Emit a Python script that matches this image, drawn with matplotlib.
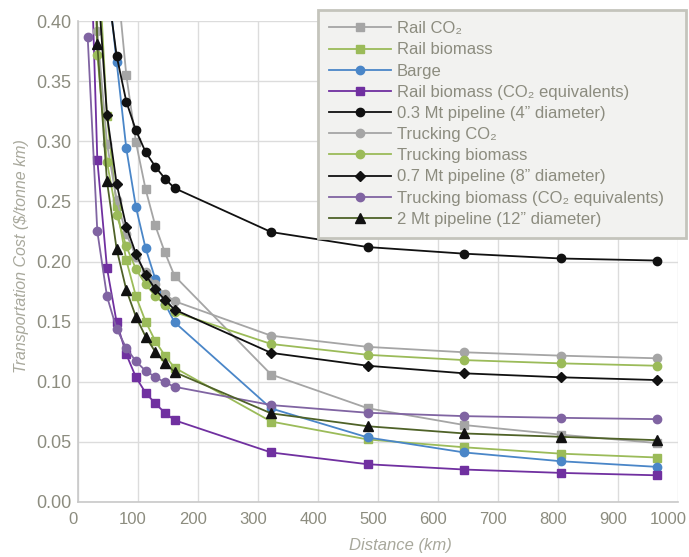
import matplotlib
matplotlib.use("Agg")
import matplotlib.pyplot as plt
from matplotlib.transforms import ScaledTranslation

# distances (km) = 10..100 mi plus 200..600 mi
distance_km = [16.1, 32.2, 48.3, 64.4, 80.5, 96.6, 112.7, 128.7, 144.8, 160.9,
               321.9, 482.8, 643.7, 804.7, 965.6]

rail_co2 = [1.69, 0.857, 0.578, 0.439, 0.355, 0.299, 0.260, 0.230, 0.2075, 0.188,
            0.106, 0.078, 0.064, 0.056, 0.049]
rail_biomass = [0.918, 0.470, 0.321, 0.246, 0.201, 0.171, 0.150, 0.134, 0.1217, 0.1117,
                0.0669, 0.052, 0.0455, 0.0402, 0.037]
barge = [1.45, 0.73, 0.44, 0.366, 0.294, 0.245, 0.211, 0.1856, 0.165, 0.1495,
         0.0778, 0.0537, 0.0412, 0.0339, 0.0292]
rail_biomass_eq = [0.55, 0.2846, 0.1945, 0.1495, 0.1228, 0.1037, 0.0908, 0.082, 0.0742, 0.068,
                   0.0412, 0.0314, 0.027, 0.0242, 0.0222]
pipe_03 = [0.917, 0.553, 0.432, 0.371, 0.333, 0.309, 0.291, 0.279, 0.269, 0.261,
           0.2245, 0.212, 0.2065, 0.2025, 0.2008]
trucking_co2 = [0.673, 0.392, 0.298, 0.251, 0.223, 0.204, 0.191, 0.181, 0.173, 0.167,
                0.1383, 0.129, 0.1245, 0.1217, 0.1195]
trucking_biomass = [0.639, 0.372, 0.2825, 0.239, 0.2125, 0.1937, 0.181, 0.1714, 0.164, 0.158,
                    0.1314, 0.1224, 0.118, 0.1153, 0.1133]
pipe_07 = [0.78, 0.438, 0.322, 0.2645, 0.229, 0.2064, 0.189, 0.177, 0.168, 0.160,
           0.124, 0.1133, 0.107, 0.1037, 0.1014]
trucking_biomass_eq = [0.387, 0.225, 0.171, 0.144, 0.128, 0.117, 0.109, 0.104, 0.0995, 0.0958,
                       0.0806, 0.0742, 0.0714, 0.070, 0.0689]
pipe_2 = [0.721, 0.3805, 0.2667, 0.2103, 0.1764, 0.154, 0.1375, 0.125, 0.116, 0.108,
          0.0737, 0.063, 0.057, 0.0542, 0.0514]

x_ticks = list(range(0, 1001, 100))
y_ticks = [0.00, 0.05, 0.10, 0.15, 0.20, 0.25, 0.30, 0.35, 0.40]

series = [
    ("Rail CO₂", rail_co2, "#a5a5a5", "s", "#a5a5a5"),
    ("Rail biomass", rail_biomass, "#9bbb59", "s", "#9bbb59"),
    ("Barge", barge, "#4a86c8", "o", "#4a86c8"),
    ("Rail biomass (CO₂ equivalents)", rail_biomass_eq, "#7030a0", "s", "#7030a0"),
    ("0.3 Mt pipeline (4” diameter)", pipe_03, "#111111", "o", "#111111"),
    ("Trucking CO₂", trucking_co2, "#a5a5a5", "o", "#a5a5a5"),
    ("Trucking biomass", trucking_biomass, "#9bbb59", "o", "#9bbb59"),
    ("0.7 Mt pipeline (8” diameter)", pipe_07, "#111111", "D", "#111111"),
    ("Trucking biomass (CO₂ equivalents)", trucking_biomass_eq, "#8064a2", "o", "#8064a2"),
    ("2 Mt pipeline (12” diameter)", pipe_2, "#4f6228", "^", "#111111"),
]

fonts = ["Liberation Sans", "DejaVu Sans"]
txt_color = "#8c8c7f"

fig = plt.figure(figsize=(6.89, 5.57), dpi=100)
ax = fig.add_axes([78 / 689, 55 / 557, 600 / 689, 481 / 557])

for label, vals, col, mk, mcol in series:
    ms = 6.5 if mk == "^" else (5.5 if mk == "D" else 6)
    ax.plot(distance_km, vals, color=col, lw=1.3, marker=mk, ms=ms,
            markerfacecolor=mcol, markeredgecolor=mcol, label=label)

ax.set_xlim(0, 1000)
ax.set_ylim(0, 0.40)
ax.set_xticks(x_ticks)
ax.set_yticks(y_ticks)
ax.set_yticklabels([f"{v:.2f}" for v in y_ticks])
ax.grid(True, color="#dcdcdc", lw=1)
ax.set_axisbelow(True)
ax.tick_params(length=0, labelcolor=txt_color)
ax.tick_params(axis="x", labelsize=12, pad=7)
ax.tick_params(axis="y", labelsize=13, pad=5)
for lbl in ax.get_xticklabels() + ax.get_yticklabels():
    lbl.set_family(fonts)

# x labels sit slightly left of their grid lines in the original
xlabels = ax.get_xticklabels()
for i, lbl in enumerate(xlabels):
    dx = -10 if i == len(xlabels) - 1 else -5
    lbl.set_transform(lbl.get_transform() + ScaledTranslation(dx / 100, 0, fig.dpi_scale_trans))

for side in ["top", "right"]:
    ax.spines[side].set_visible(False)
for side in ["left", "bottom"]:
    ax.spines[side].set_color("#c8c8c8")
    ax.spines[side].set_linewidth(1.2)

ax.set_xlabel("Distance (km)", family=fonts, style="italic", color="#a8a89c", fontsize=12)
ax.set_ylabel("Transportation Cost ($/tonne km)", family=fonts, style="italic",
              color="#a8a89c", fontsize=11.5)
ax.xaxis.set_label_coords(0.537, -0.075)
ax.yaxis.set_label_coords(-0.082, 0.512)

leg = ax.legend(loc="upper left", bbox_to_anchor=(0.4, 0.5489, 0.6133, 0.474),
                mode="expand", borderaxespad=0,
                prop={"family": fonts, "size": 12}, frameon=True, fancybox=False,
                handlelength=3.7, handletextpad=0.36, labelspacing=0.37,
                borderpad=0.68)
frame = leg.get_frame()
frame.set_facecolor("#f2f2f0")
frame.set_edgecolor("#c4c4bc")
frame.set_linewidth(2)
frame.set_alpha(1)
for t in leg.get_texts():
    t.set_color(txt_color)

fig.savefig("out.png", dpi=100)
